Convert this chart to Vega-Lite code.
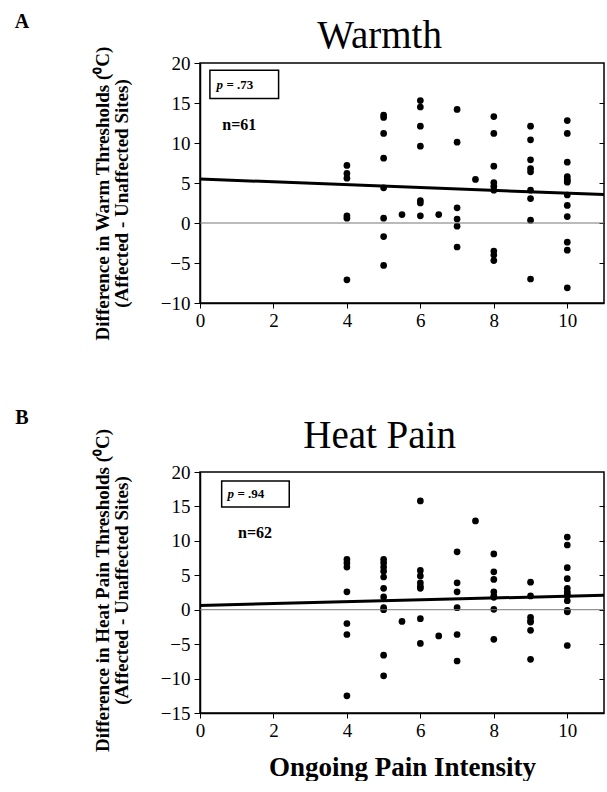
{
  "$schema": "https://vega.github.io/schema/vega-lite/v6.json",
  "padding": {"left": 13, "top": 11, "right": 0, "bottom": 0},
  "spacing": 66,
  "config": {
    "font": "Liberation Serif",
    "view": {"stroke": "black", "strokeWidth": 1.5},
    "axis": {
      "labelFont": "Liberation Serif", "labelFontSize": 19, "labelColor": "black", "labelOverlap": false, "labelSeparation": -200,
      "domainColor": "black", "domainWidth": 1.5, "tickColor": "black", "tickWidth": 1,
      "grid": false, "titleFont": "Liberation Serif", "titleColor": "black", "titleFontWeight": "bold"
    }
  },
  "datasets": {
    "warm": [
      {"x": 4, "y": 7.2}, {"x": 4, "y": 6.2}, {"x": 4, "y": 5.6}, {"x": 4, "y": 0.9}, {"x": 4, "y": 0.6}, {"x": 4, "y": -7.1},
      {"x": 5, "y": 13.5}, {"x": 5, "y": 13.2}, {"x": 5, "y": 11.2}, {"x": 5, "y": 8.1}, {"x": 5, "y": 4.4}, {"x": 5, "y": 0.6}, {"x": 5, "y": -1.7}, {"x": 5, "y": -5.3},
      {"x": 5.5, "y": 1.05},
      {"x": 6, "y": 15.3}, {"x": 6, "y": 14.5}, {"x": 6, "y": 12.1}, {"x": 6, "y": 9.6}, {"x": 6, "y": 2.8}, {"x": 6, "y": 2.5}, {"x": 6, "y": 0.9},
      {"x": 6.5, "y": 1.05},
      {"x": 7, "y": 14.2}, {"x": 7, "y": 10.1}, {"x": 7, "y": 1.9}, {"x": 7, "y": 0.5}, {"x": 7, "y": -0.4}, {"x": 7, "y": -3.0},
      {"x": 7.5, "y": 5.45},
      {"x": 8, "y": 13.3}, {"x": 8, "y": 11.2}, {"x": 8, "y": 7.1}, {"x": 8, "y": 5.05}, {"x": 8, "y": 4.6}, {"x": 8, "y": 4.1}, {"x": 8, "y": -3.5}, {"x": 8, "y": -4.0}, {"x": 8, "y": -4.7},
      {"x": 9, "y": 12.1}, {"x": 9, "y": 10.4}, {"x": 9, "y": 7.9}, {"x": 9, "y": 6.8}, {"x": 9, "y": 6.4}, {"x": 9, "y": 4.1}, {"x": 9, "y": 3.05}, {"x": 9, "y": 0.35}, {"x": 9, "y": -7.0},
      {"x": 10, "y": 12.8}, {"x": 10, "y": 11.2}, {"x": 10, "y": 7.6}, {"x": 10, "y": 5.8}, {"x": 10, "y": 5.5}, {"x": 10, "y": 5.3}, {"x": 10, "y": 5.1}, {"x": 10, "y": 3.5}, {"x": 10, "y": 2.2}, {"x": 10, "y": 0.8}, {"x": 10, "y": -2.4}, {"x": 10, "y": -3.4}, {"x": 10, "y": -8.1}
    ],
    "heat": [
      {"x": 4, "y": 7.3}, {"x": 4, "y": 6.8}, {"x": 4, "y": 6.2}, {"x": 4, "y": 2.6}, {"x": 4, "y": -2.0}, {"x": 4, "y": -3.6}, {"x": 4, "y": -12.5},
      {"x": 5, "y": 7.3}, {"x": 5, "y": 6.8}, {"x": 5, "y": 6.2}, {"x": 5, "y": 5.6}, {"x": 5, "y": 4.75}, {"x": 5, "y": 3.1}, {"x": 5, "y": 1.85}, {"x": 5, "y": 0.3}, {"x": 5, "y": 0}, {"x": 5, "y": -6.6}, {"x": 5, "y": -9.6},
      {"x": 5.5, "y": -1.7},
      {"x": 6, "y": 15.8}, {"x": 6, "y": 5.7}, {"x": 6, "y": 4.9}, {"x": 6, "y": 3.9}, {"x": 6, "y": 3.4}, {"x": 6, "y": 3.1}, {"x": 6, "y": -1.3}, {"x": 6, "y": -4.9},
      {"x": 6.5, "y": -3.8},
      {"x": 7, "y": 8.4}, {"x": 7, "y": 3.9}, {"x": 7, "y": 2.6}, {"x": 7, "y": 0.3}, {"x": 7, "y": -3.6}, {"x": 7, "y": -7.45},
      {"x": 7.5, "y": 12.9},
      {"x": 8, "y": 8.1}, {"x": 8, "y": 5.5}, {"x": 8, "y": 4.4}, {"x": 8, "y": 2.6}, {"x": 8, "y": 2.0}, {"x": 8, "y": 1.8}, {"x": 8, "y": 0.05}, {"x": 8, "y": -4.3},
      {"x": 9, "y": 4.0}, {"x": 9, "y": 2.0}, {"x": 9, "y": -1.1}, {"x": 9, "y": -1.6}, {"x": 9, "y": -1.8}, {"x": 9, "y": -3.0}, {"x": 9, "y": -7.2},
      {"x": 10, "y": 10.55}, {"x": 10, "y": 9.4}, {"x": 10, "y": 6.1}, {"x": 10, "y": 4.5}, {"x": 10, "y": 3.1}, {"x": 10, "y": 2.6}, {"x": 10, "y": 2.3}, {"x": 10, "y": 2.0}, {"x": 10, "y": 1.3}, {"x": 10, "y": -0.1}, {"x": 10, "y": -0.3}, {"x": 10, "y": -5.2}
    ],
    "warmFit": [{"x": 0, "y": 5.5}, {"x": 11, "y": 3.55}],
    "heatFit": [{"x": 0, "y": 0.63}, {"x": 11, "y": 2.1}],
    "one": [{}]
  },
  "vconcat": [
    {
      "width": 404, "height": 240,
      "resolve": {"axis": {"y": "independent"}},
      "layer": [
        {
          "data": {"name": "warm"},
          "mark": {"type": "circle", "size": 45, "color": "black", "opacity": 1},
          "encoding": {
            "x": {"field": "x", "type": "quantitative", "scale": {"domain": [0, 11], "nice": false, "zero": false},
              "axis": {"values": [0,1,2,3,4,5,6,7,8,9,10,11], "labelExpr": "datum.value % 2 === 0 && datum.value <= 10 ? datum.label : ''", "tickSize": 5, "labelPadding": 3, "title": null, "labelFlush": false, "labelOverlap": false}},
            "y": {"field": "y", "type": "quantitative", "scale": {"domain": [-10, 20], "nice": false, "zero": false},
              "axis": {"orient": "left", "values": [-10,0,10,20], "tickSize": 6, "labelPadding": 4, "labelOverlap": false, "title": ["Difference in Warm Thresholds (⁰C)", "(Affected - Unaffected Sites)"], "titleFontSize": 19, "titleLineHeight": 19, "titleX": -88, "titleY": 130}}
          }
        },
        {
          "data": {"name": "warmFit"},
          "mark": {"type": "line", "color": "black", "strokeWidth": 3},
          "encoding": {"x": {"field": "x", "type": "quantitative"}, "y": {"field": "y", "type": "quantitative",
            "axis": {"orient": "left", "values": [-5,5,15], "tickSize": 6, "labelPadding": 4, "labelOverlap": false, "domain": false, "title": null}}}
        },
        {
          "data": {"name": "one"},
          "mark": {"type": "rule", "color": "#777777", "strokeWidth": 1},
          "encoding": {"y": {"datum": 0, "type": "quantitative",
            "axis": {"orient": "right", "values": [-5,0,5,10,15], "labels": false, "domain": false, "tickSize": -5, "title": null}}}
        },
        {
          "data": {"name": "one"},
          "mark": {"type": "rect", "fill": "white", "stroke": "black", "strokeWidth": 1.5},
          "encoding": {"x": {"datum": 0.27}, "x2": {"datum": 2.14}, "y": {"datum": 19.1, "type": "quantitative", "axis": null}, "y2": {"datum": 15.55}}
        },
        {
          "data": {"name": "one"},
          "mark": {"type": "text", "text": "p", "font": "Liberation Serif", "fontSize": 13, "fontWeight": "bold", "fontStyle": "italic", "align": "left", "baseline": "middle", "color": "black"},
          "encoding": {"x": {"datum": 0.45}, "y": {"datum": 17.3, "type": "quantitative", "axis": null}}
        },
        {
          "data": {"name": "one"},
          "mark": {"type": "text", "text": "= .73", "font": "Liberation Serif", "fontSize": 13, "fontWeight": "bold", "align": "left", "baseline": "middle", "color": "black"},
          "encoding": {"x": {"datum": 0.72}, "y": {"datum": 17.3, "type": "quantitative", "axis": null}}
        },
        {
          "data": {"name": "one"},
          "mark": {"type": "text", "text": "n=61", "font": "Liberation Serif", "fontSize": 16, "fontWeight": "bold", "align": "center", "baseline": "middle", "color": "black"},
          "encoding": {"x": {"datum": 1.07}, "y": {"datum": 12.3, "type": "quantitative", "axis": null}}
        },
        {
          "data": {"name": "one"},
          "mark": {"type": "text", "text": "Warmth", "font": "Liberation Serif", "fontSize": 39, "align": "center", "baseline": "alphabetic", "color": "black"},
          "encoding": {"x": {"datum": 4.89}, "y": {"datum": 21.84, "type": "quantitative", "axis": null}}
        },
        {
          "data": {"name": "one"},
          "mark": {"type": "text", "text": "A", "font": "Liberation Serif", "fontSize": 20, "fontWeight": "bold", "align": "center", "baseline": "middle", "color": "black"},
          "encoding": {"x": {"datum": -4.85}, "y": {"datum": 25.1, "type": "quantitative", "axis": null}}
        }
      ]
    },
    {
      "width": 404, "height": 241,
      "resolve": {"axis": {"y": "independent"}},
      "layer": [
        {
          "data": {"name": "heat"},
          "mark": {"type": "circle", "size": 45, "color": "black", "opacity": 1},
          "encoding": {
            "x": {"field": "x", "type": "quantitative", "scale": {"domain": [0, 11], "nice": false, "zero": false},
              "axis": {"values": [0,1,2,3,4,5,6,7,8,9,10,11], "labelExpr": "datum.value % 2 === 0 && datum.value <= 10 ? datum.label : ''", "tickSize": 5, "labelPadding": 3, "title": "Ongoing Pain Intensity", "titleFontSize": 27, "titlePadding": 14, "labelFlush": false, "labelOverlap": false}},
            "y": {"field": "y", "type": "quantitative", "scale": {"domain": [-15, 20], "nice": false, "zero": false},
              "axis": {"orient": "left", "values": [-15,-5,5,15], "tickSize": 6, "labelPadding": 4, "labelOverlap": false, "title": ["Difference in Heat Pain Thresholds (⁰C)", "(Affected - Unaffected Sites)"], "titleFontSize": 19, "titleLineHeight": 19, "titleX": -88, "titleY": 118}}
          }
        },
        {
          "data": {"name": "heatFit"},
          "mark": {"type": "line", "color": "black", "strokeWidth": 3},
          "encoding": {"x": {"field": "x", "type": "quantitative"}, "y": {"field": "y", "type": "quantitative",
            "axis": {"orient": "left", "values": [-10,0,10,20], "tickSize": 6, "labelPadding": 4, "labelOverlap": false, "domain": false, "title": null}}}
        },
        {
          "data": {"name": "one"},
          "mark": {"type": "rule", "color": "#777777", "strokeWidth": 1},
          "encoding": {"y": {"datum": 0, "type": "quantitative",
            "axis": {"orient": "right", "values": [-10,-5,0,5,10,15], "labels": false, "domain": false, "tickSize": -5, "title": null}}}
        },
        {
          "data": {"name": "one"},
          "mark": {"type": "rect", "fill": "white", "stroke": "black", "strokeWidth": 1.5},
          "encoding": {"x": {"datum": 0.59}, "x2": {"datum": 2.43}, "y": {"datum": 18.7, "type": "quantitative", "axis": null}, "y2": {"datum": 14.9}}
        },
        {
          "data": {"name": "one"},
          "mark": {"type": "text", "text": "p", "font": "Liberation Serif", "fontSize": 13, "fontWeight": "bold", "fontStyle": "italic", "align": "left", "baseline": "middle", "color": "black"},
          "encoding": {"x": {"datum": 0.75}, "y": {"datum": 16.8, "type": "quantitative", "axis": null}}
        },
        {
          "data": {"name": "one"},
          "mark": {"type": "text", "text": "= .94", "font": "Liberation Serif", "fontSize": 13, "fontWeight": "bold", "align": "left", "baseline": "middle", "color": "black"},
          "encoding": {"x": {"datum": 1.02}, "y": {"datum": 16.8, "type": "quantitative", "axis": null}}
        },
        {
          "data": {"name": "one"},
          "mark": {"type": "text", "text": "n=62", "font": "Liberation Serif", "fontSize": 16, "fontWeight": "bold", "align": "center", "baseline": "middle", "color": "black"},
          "encoding": {"x": {"datum": 1.5}, "y": {"datum": 11.2, "type": "quantitative", "axis": null}}
        },
        {
          "data": {"name": "one"},
          "mark": {"type": "text", "text": "Heat Pain", "font": "Liberation Serif", "fontSize": 39, "align": "center", "baseline": "alphabetic", "color": "black"},
          "encoding": {"x": {"datum": 4.89}, "y": {"datum": 23.5, "type": "quantitative", "axis": null}}
        },
        {
          "data": {"name": "one"},
          "mark": {"type": "text", "text": "B", "font": "Liberation Serif", "fontSize": 20, "fontWeight": "bold", "align": "center", "baseline": "middle", "color": "black"},
          "encoding": {"x": {"datum": -4.85}, "y": {"datum": 27.8, "type": "quantitative", "axis": null}}
        }
      ]
    }
  ]
}
